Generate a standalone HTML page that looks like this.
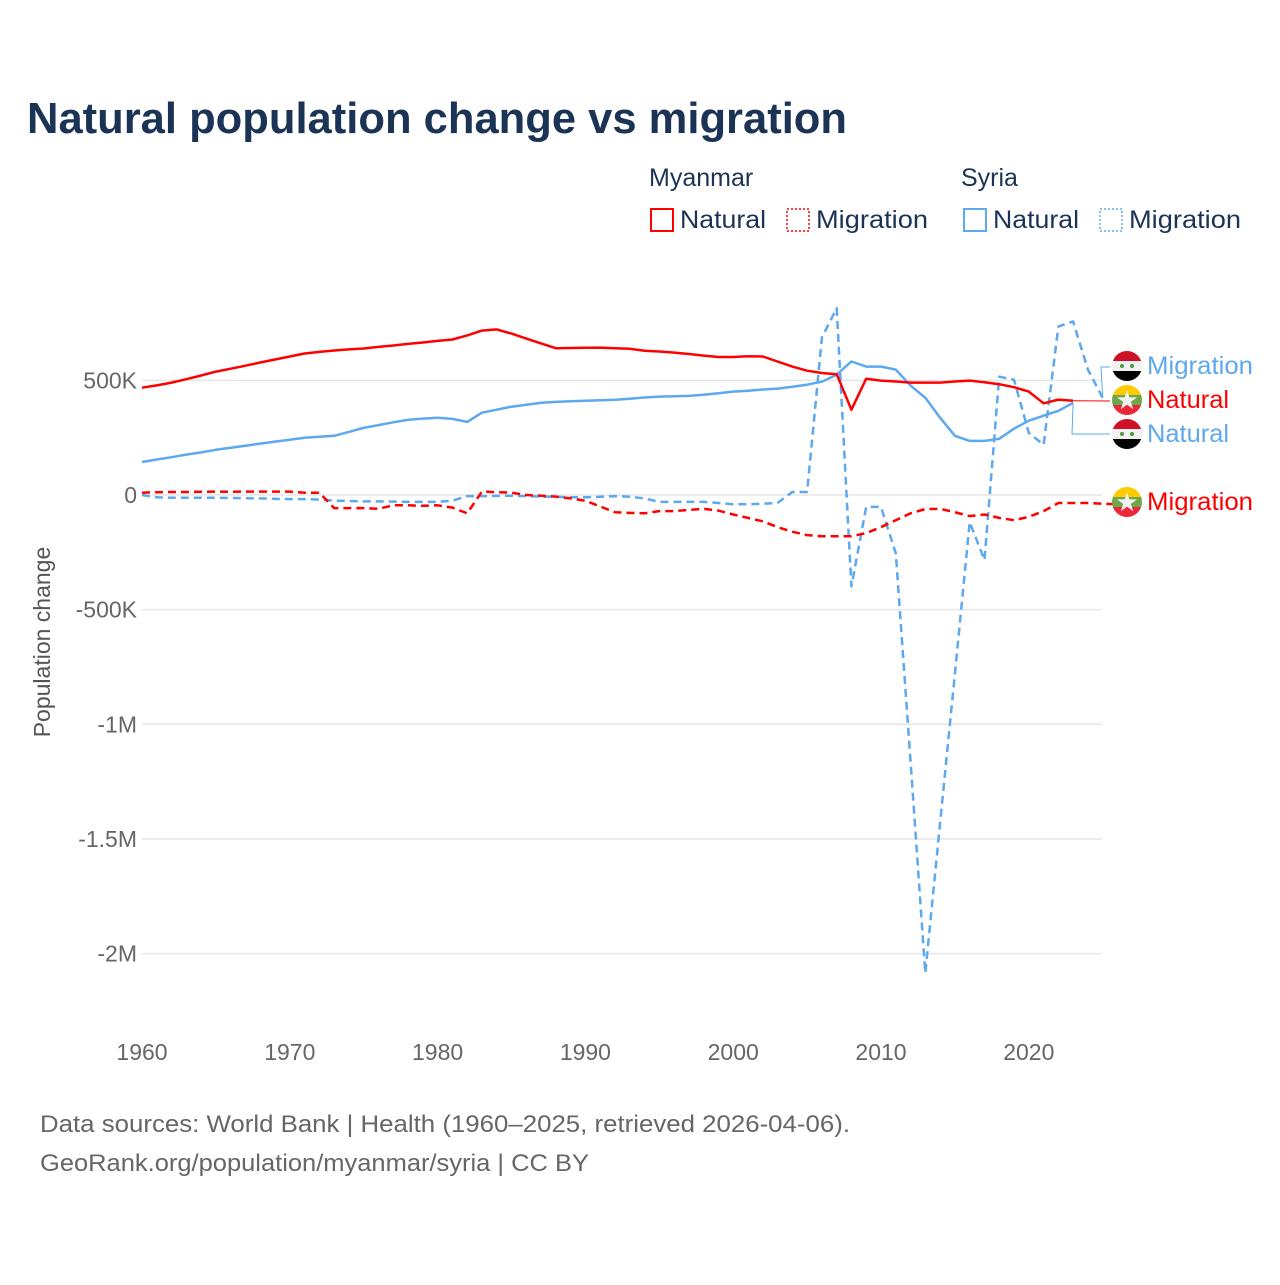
<!DOCTYPE html>
<html><head><meta charset="utf-8"><style>
body{margin:0;background:#fff;font-family:"Liberation Sans",sans-serif}
svg text{font-family:"Liberation Sans",sans-serif}
</style></head><body>
<svg id="chart" width="1280" height="1280" viewBox="0 0 1280 1280">
<text x="27" y="133" font-size="44" font-weight="bold" fill="#1b3354" textLength="820" lengthAdjust="spacingAndGlyphs">Natural population change vs migration</text>
<g>
<text x="649" y="186" font-size="25" fill="#1b3354">Myanmar</text>
<text x="961" y="186" font-size="25" fill="#1b3354">Syria</text>
<g><rect x="651" y="209" width="22" height="22" fill="none" stroke="#ff0000" stroke-width="2"/><text x="680" y="228" font-size="25" fill="#1b3354" textLength="86" lengthAdjust="spacingAndGlyphs">Natural</text></g>
<g><rect x="787" y="209" width="22" height="22" fill="none" stroke="#ff0000" stroke-width="1.5" stroke-dasharray="2,2"/><text x="816" y="228" font-size="25" fill="#1b3354" textLength="112" lengthAdjust="spacingAndGlyphs">Migration</text></g>
<g><rect x="964" y="209" width="22" height="22" fill="none" stroke="#5da8ee" stroke-width="2"/><text x="993" y="228" font-size="25" fill="#1b3354" textLength="86" lengthAdjust="spacingAndGlyphs">Natural</text></g>
<g><rect x="1100" y="209" width="22" height="22" fill="none" stroke="#5da8ee" stroke-width="1.5" stroke-dasharray="2,2"/><text x="1129" y="228" font-size="25" fill="#1b3354" textLength="112" lengthAdjust="spacingAndGlyphs">Migration</text></g>
</g>
<g id="grid"></g>
<g id="series"></g>
<g id="labels"></g>
<text transform="translate(50,642) rotate(-90)" text-anchor="middle" font-size="23" fill="#555">Population change</text>
<text x="40" y="1132" font-size="24" fill="#666" textLength="810" lengthAdjust="spacingAndGlyphs">Data sources: World Bank | Health (1960–2025, retrieved 2026-04-06).</text>
<text x="40" y="1171" font-size="24" fill="#666" textLength="549" lengthAdjust="spacingAndGlyphs">GeoRank.org/population/myanmar/syria | CC BY</text>
</svg>
<script>
const yTicks=[500,0,-500,-1000,-1500,-2000];
const yTickLabels=["500K","0","-500K","-1M","-1.5M","-2M"];
const xTicks=[1960,1970,1980,1990,2000,2010,2020];
const myanmarNatural=[468,478,490,505,521,538,551,564,578,591,604,617,624,630,635,639,646,652,659,665,672,678,696,717,722,704,682,661,640,641,642,643,640,638,629,626,621,615,608,602,602,605,604,582,560,542,532,527,372,507,499,495,490,490,490,495,499,492,483,470,451,400,416,411];
const myanmarMigration=[10,12,13,13,14,15,14,15,15,15,15,10,10,-57,-57,-57,-60,-45,-45,-47,-45,-55,-80,15,12,10,0,-3,-7,-15,-25,-50,-75,-78,-80,-70,-70,-65,-60,-68,-85,-100,-115,-140,-160,-175,-180,-180,-180,-166,-140,-110,-80,-61,-60,-75,-92,-85,-100,-110,-95,-70,-35,-35,-35,-38,-40];
const syriaNatural=[144,155,165,176,186,197,206,215,224,233,241,250,254,258,275,293,305,317,328,333,337,332,319,359,372,385,394,402,406,409,411,413,415,420,425,429,431,432,437,444,451,455,460,464,472,481,494,525,582,560,560,547,477,424,337,258,236,236,245,289,324,346,367,402];
const syriaMigration=[0,-10,-12,-12,-12,-12,-13,-14,-15,-17,-18,-18,-20,-25,-26,-28,-28,-29,-30,-30,-30,-25,-5,-5,-4,-3,-5,-7,-8,-10,-10,-8,-5,-8,-15,-30,-30,-30,-30,-35,-40,-40,-38,-35,13,13,687,814,-398,-52,-52,-254,-1165,-2085,-1430,-780,-118,-284,516,503,271,219,735,757,547,424];
const years0=1960;
const X=y=>142+(y-1960)*14.78;
const Y=v=>495-v*0.2293;
const NS='http://www.w3.org/2000/svg';
function mk(t,a,p){const e=document.createElementNS(NS,t);for(const k in a)e.setAttribute(k,a[k]);p.appendChild(e);return e;}
const grid=document.getElementById('grid');
yTicks.forEach((v,i)=>{
 const l=mk('line',{x1:142,x2:1102,y1:Y(v),y2:Y(v),stroke:'#e6e6e6','stroke-width':1.5},grid);
 
 
 const t=mk('text',{x:137,y:Y(v)+8,'text-anchor':'end','font-size':23,fill:'#666'},grid);
 t.textContent=yTickLabels[i];
 
 
});
xTicks.forEach(y=>{
 const t=mk('text',{x:X(y),y:1060,'text-anchor':'middle','font-size':23,fill:'#666'},grid);
 t.textContent=y;
 
 
});
const series=document.getElementById('series');
function line(arr,color,dash,name){
 const d=arr.map((v,i)=>(i?'L':'M')+X(years0+i).toFixed(1)+','+Y(v).toFixed(1)).join('');
 const p=mk('path',{d:d,fill:'none',stroke:color,'stroke-width':2.5,'stroke-dasharray':dash,'stroke-linejoin':'round'},series);
 
 
}
line(syriaNatural,'#5da8ee','none','line-syria-natural');
line(syriaMigration,'#5da8ee','8,5','line-syria-migration');
line(myanmarMigration,'#ff0000','8,5','line-myanmar-migration');
line(myanmarNatural,'#ff0000','none','line-myanmar-natural');
const labels=document.getElementById('labels');
mk('path',{d:'M'+X(2025)+','+Y(424)+' L1101,367 L1110,367',fill:'none',stroke:'#5da8ee','stroke-width':1},labels);
mk('path',{d:'M'+X(2023)+','+Y(411)+' L1110,401',fill:'none',stroke:'#ff0000','stroke-width':1},labels);
mk('path',{d:'M'+X(2023)+','+Y(402)+' L1072,434 L1110,434',fill:'none',stroke:'#5da8ee','stroke-width':1},labels);
function flag(cx,cy,type){
 const g=mk('g',{},labels);
 const id='c'+cx+cy;
 const cp=mk('clipPath',{id:id},g);mk('circle',{cx:cx,cy:cy,r:15},cp);
 const gg=mk('g',{'clip-path':'url(#'+id+')'},g);
 if(type==='syria'){
  mk('rect',{x:cx-15,y:cy-15,width:30,height:10,fill:'#ce1126'},gg);
  mk('rect',{x:cx-15,y:cy-5,width:30,height:10,fill:'#f2f2f2'},gg);
  mk('rect',{x:cx-15,y:cy+5,width:30,height:10,fill:'#000'},gg);
  mk('circle',{cx:cx-5,cy:cy,r:2,fill:'#4a9a3a'},gg);mk('circle',{cx:cx+5,cy:cy,r:2,fill:'#4a9a3a'},gg);
 }else{
  mk('rect',{x:cx-15,y:cy-15,width:30,height:10,fill:'#fecb00'},gg);
  mk('rect',{x:cx-15,y:cy-5,width:30,height:10,fill:'#6ea84b'},gg);
  mk('rect',{x:cx-15,y:cy+5,width:30,height:10,fill:'#ea2839'},gg);
  const t=mk('text',{x:cx,y:cy+9,'text-anchor':'middle','font-size':26,fill:'#f2f2f2'},gg);t.textContent='★';
 }
 
 
}
[['syria',366,'Migration','#5da8ee',106],['myanmar',400,'Natural','#ff0000',82],['syria',434,'Natural','#5da8ee',82],['myanmar',502,'Migration','#ff0000',106]].forEach(r=>{
 flag(1127,r[1],r[0]);
 const t=mk('text',{x:1147,y:r[1]+8,'font-size':25,fill:r[3],textLength:r[4],lengthAdjust:'spacingAndGlyphs'},labels);
 t.textContent=r[2];
 
 
});
</script>
</body></html>
